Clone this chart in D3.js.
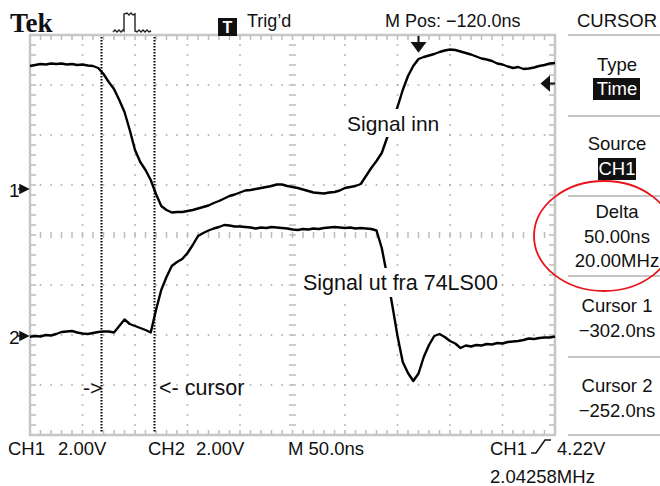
<!DOCTYPE html>
<html>
<head>
<meta charset="utf-8">
<script src="https://cdn.jsdelivr.net/npm/d3@7"></script>
<style>
body { margin: 0; background: #fff; }
svg { display: block; }
text { font-family: "Liberation Sans", Arial, sans-serif; fill: #111; }
</style>
</head>
<body>
<div class="drawingboard"></div>
<script>
// sample times (ns), 5 ns apart, over the 10 division screen
var times = [-370, -365, -360, -355, -350, -345, -340, -335, -330, -325, -320, -315, -310, -305, -300,
    -295, -290, -285, -280, -275, -270, -265, -260, -255, -250, -245, -240, -235, -230, -225, -220,
    -215, -210, -205, -200, -195, -190, -185, -180, -175, -170, -165, -160, -155, -150, -145, -140,
    -135, -130, -125, -120, -115, -110, -105, -100, -95, -90, -85, -80, -75, -70, -65, -60, -55, -50,
    -45, -40, -35, -30, -25, -20, -15, -10, -5, 0, 5, 10, 15, 20, 25, 30, 35, 40, 45, 50, 55, 60, 65,
    70, 75, 80, 85, 90, 95, 100, 105, 110, 115, 120, 125, 130];

// CH1 "Signal inn" (V)
var ch1Volts = [4.92, 4.96, 5.00, 4.98, 5.02, 5.00, 5.02, 4.98, 5.00, 4.96, 4.98, 4.94, 4.92, 4.84, 4.60,
    4.28, 4.00, 3.56, 3.08, 2.36, 1.56, 1.08, 0.76, 0.36, -0.20, -0.68, -0.84, -0.94, -0.92, -0.92, -0.88,
    -0.84, -0.78, -0.72, -0.66, -0.56, -0.48, -0.38, -0.28, -0.22, -0.14, -0.06, -0.04, 0.00, 0.04, 0.08,
    0.12, 0.18, 0.18, 0.12, 0.08, 0.04, -0.02, -0.08, -0.14, -0.16, -0.18, -0.14, -0.12, -0.06, 0.04, 0.08,
    0.12, 0.20, 0.52, 0.84, 1.12, 1.44, 2.04, 2.68, 3.28, 3.96, 4.52, 4.92, 5.20, 5.28, 5.34, 5.40, 5.48,
    5.54, 5.58, 5.56, 5.50, 5.44, 5.38, 5.30, 5.22, 5.18, 5.12, 5.02, 4.98, 4.90, 4.84, 4.88, 4.80, 4.82,
    4.86, 4.92, 4.96, 5.02, 5.04];

// CH2 "Signal ut fra 74LS00" (V)
var ch2Volts = [-0.03, 0.00, -0.02, 0.04, 0.02, 0.08, 0.16, 0.18, 0.20, 0.14, 0.10, 0.08, 0.12, 0.16, 0.18,
    0.18, 0.14, 0.40, 0.66, 0.48, 0.40, 0.32, 0.24, 0.14, 1.04, 1.84, 2.36, 2.80, 2.96, 3.08, 3.32,
    3.64, 4.00, 4.12, 4.22, 4.30, 4.36, 4.44, 4.42, 4.38, 4.38, 4.36, 4.34, 4.30, 4.34, 4.32, 4.36,
    4.34, 4.32, 4.30, 4.26, 4.24, 4.28, 4.26, 4.30, 4.28, 4.32, 4.34, 4.36, 4.34, 4.32, 4.34, 4.30,
    4.32, 4.30, 4.28, 4.22, 3.52, 2.44, 1.24, 0.00, -1.04, -1.48, -1.80, -1.50, -0.84, -0.36, 0.00, 0.08,
    -0.04, -0.20, -0.30, -0.48, -0.38, -0.42, -0.36, -0.38, -0.32, -0.34, -0.28, -0.30, -0.24, -0.22,
    -0.20, -0.16, -0.10, -0.12, -0.08, -0.06, -0.06, -0.02];

var cursorTimes = [-302, -252];
var triggerTime = 0;
var triggerLevel = 4.22;
var voltsPerDiv = 2;
var nsPerDiv = 50;
var horizPos = -120;
var ch1Position = 0.92;   // divisions above centre
var ch2Position = -2.02;

var width = 660, height = 486;
var gLeft = 30, gRight = 555, gTop = 35, gBottom = 435;

var svg = d3.select(".drawingboard")
    .append("svg")
    .attr("width", width)
    .attr("height", height);

var x = d3.scaleLinear()
    .domain([horizPos - 5 * nsPerDiv, horizPos + 5 * nsPerDiv])
    .range([gLeft, gRight]);

function yScale(pos) {
    return d3.scaleLinear()
        .domain([(-4 - pos) * voltsPerDiv, (4 - pos) * voltsPerDiv])
        .range([gBottom, gTop]);
}
var y1 = yScale(ch1Position);
var y2 = yScale(ch2Position);

// graticule
var grid = svg.append("g");
var minorX = d3.range(0, 51).map(function (i) { return gLeft + i * (gRight - gLeft) / 50; });
var minorY = d3.range(0, 41).map(function (i) { return gTop + i * (gBottom - gTop) / 40; });
var majorX = d3.range(1, 10).map(function (i) { return gLeft + i * (gRight - gLeft) / 10; });
var majorY = d3.range(1, 8).map(function (i) { return gTop + i * (gBottom - gTop) / 8; });
var cx = (gLeft + gRight) / 2, cy = (gTop + gBottom) / 2;

majorY.forEach(function (gy) {
    if (gy === cy) return;
    grid.selectAll(null).data(minorX.slice(1, -1)).enter().append("rect")
        .attr("x", function (d) { return d - 0.8; }).attr("y", gy - 0.8)
        .attr("width", 1.6).attr("height", 1.6).attr("fill", "#a9a9a9");
});
majorX.forEach(function (gx) {
    if (gx === cx) return;
    grid.selectAll(null).data(minorY.slice(1, -1)).enter().append("rect")
        .attr("x", gx - 0.8).attr("y", function (d) { return d - 0.8; })
        .attr("width", 1.6).attr("height", 1.6).attr("fill", "#a9a9a9");
});

var tickCol = "#bcbcbc";
// centre crosshair ticks
grid.selectAll(null).data(minorX.slice(1, -1)).enter().append("line")
    .attr("x1", function (d) { return d; }).attr("x2", function (d) { return d; })
    .attr("y1", cy - 3).attr("y2", cy + 3)
    .attr("stroke", tickCol).attr("stroke-width", 1.5);
grid.selectAll(null).data(minorY.slice(1, -1)).enter().append("line")
    .attr("x1", cx - 3.5).attr("x2", cx + 3.5)
    .attr("y1", function (d) { return d; }).attr("y2", function (d) { return d; })
    .attr("stroke", tickCol).attr("stroke-width", 1.5);
// edge ticks
grid.selectAll(null).data(minorX.slice(1, -1)).enter().append("path")
    .attr("d", function (d) { return "M" + d + "," + gTop + "V" + (gTop + 5) + "M" + d + "," + gBottom + "V" + (gBottom - 5); })
    .attr("stroke", tickCol).attr("stroke-width", 1.5);
grid.selectAll(null).data(minorY.slice(1, -1)).enter().append("path")
    .attr("d", function (d) { return "M" + gLeft + "," + d + "H" + (gLeft + 6) + "M" + gRight + "," + d + "H" + (gRight - 6); })
    .attr("stroke", tickCol).attr("stroke-width", 1.5);
grid.append("rect")
    .attr("x", gLeft).attr("y", gTop)
    .attr("width", gRight - gLeft).attr("height", gBottom - gTop)
    .attr("fill", "none").attr("stroke", "#c6c6c6").attr("stroke-width", 2.5);

// cursors
svg.selectAll(".cursor").data(cursorTimes).enter().append("line")
    .attr("class", "cursor")
    .attr("x1", function (d) { return Math.round(x(d)) + 0.5; }).attr("x2", function (d) { return Math.round(x(d)) + 0.5; })
    .attr("y1", gTop + 2).attr("y2", gBottom - 2)
    .attr("stroke", "#000").attr("stroke-width", 2)
    .attr("stroke-dasharray", "1.5,1.5");

// traces
var traces = svg.append("g");
function trace(values, ys) {
    traces.append("path")
        .datum(values)
        .attr("fill", "none")
        .attr("stroke", "#000")
        .attr("stroke-width", 2.4)
        .attr("stroke-linejoin", "round")
        .attr("d", d3.line()
            .x(function (d, i) { return x(times[i]); })
            .y(function (d) { return ys(d); }));
}
trace(ch1Volts, y1);
trace(ch2Volts, y2);

// annotation labels with opaque background
function label(txt, lx, ly, size) {
    var g = svg.append("g");
    var bg = g.append("rect").attr("fill", "#fff");
    var t = g.append("text").attr("x", lx).attr("y", ly)
        .style("font-size", size + "px").text(txt);
    var b = t.node().getBBox();
    bg.attr("x", b.x - 3).attr("y", b.y - 3).attr("width", b.width + 6).attr("height", b.height + 5);
}
label("Signal inn", 347, 131, 21);
label("Signal ut fra 74LS00", 303, 290, 21.5);

svg.append("text").attr("x", 83).attr("y", 395).style("font-size", "21px").text("->");
svg.append("text").attr("x", 159).attr("y", 395).style("font-size", "21.5px").text("<- cursor");

// channel ground markers
function marker(num, gy) {
    svg.append("text").attr("x", 9).attr("y", gy + 8).style("font-size", "19px").text(num);
    svg.append("path")
        .attr("d", "M20," + (gy - 4) + "L28," + gy + "L20," + (gy + 4) + "Z M18," + gy + "H24")
        .attr("fill", "#111").attr("stroke", "#111").attr("stroke-width", 1.5);
}
marker("1", y1(0));
marker("2", y2(0));

// trigger markers
var tx = x(triggerTime);
svg.append("path")
    .attr("d", "M" + tx + ",36V45 M" + (tx - 6) + ",43L" + tx + ",51L" + (tx + 6) + ",43Z")
    .attr("stroke", "#111").attr("stroke-width", 2).attr("fill", "#111");
var ty = y1(triggerLevel);
svg.append("path")
    .attr("d", "M" + gRight + "," + ty + "H" + (gRight - 8) + " M" + (gRight - 6) + "," + (ty - 6) + "L" + (gRight - 13) + "," + ty + "L" + (gRight - 6) + "," + (ty + 6) + "Z")
    .attr("stroke", "#111").attr("stroke-width", 2).attr("fill", "#111");

// header
svg.append("text").attr("x", 10).attr("y", 32)
    .style("font-family", "'Liberation Serif', 'DejaVu Serif', serif")
    .style("font-weight", "bold").style("font-size", "27px").text("Tek");
svg.append("path")
    .attr("d", "M113,32 l2,-2 l2,2 l2,-2 l2,2 l2,-2 L124,31 L124,14 L127,13 L129,15 L131,13 L133,15 L135,14 L135,31 l2,1 l2,-2 l2,2 l2,-2 l2,2 l2,-2 l2,2 l2,-1")
    .attr("fill", "none").attr("stroke", "#222").attr("stroke-width", 1.4);
svg.append("rect").attr("x", 218).attr("y", 18).attr("width", 19).attr("height", 18).attr("fill", "#111");
svg.append("text").attr("x", 227.5).attr("y", 33).attr("text-anchor", "middle")
    .style("font-size", "16px").style("font-weight", "bold").style("fill", "#fff").text("T");
svg.append("text").attr("x", 247).attr("y", 27).style("font-size", "18px").text("Trig\u2019d");
svg.append("text").attr("x", 385).attr("y", 27).style("font-size", "18px")
    .text("M Pos: \u2212" + Math.abs(horizPos).toFixed(1) + "ns");

// side menu
var mx = 617;
var menu = svg.append("g").attr("text-anchor", "middle").style("font-size", "18.5px");
menu.append("text").attr("x", mx).attr("y", 27).text("CURSOR");
[35, 116, 196, 276, 357, 435].forEach(function (sy) {
    menu.append("line").attr("x1", 568).attr("x2", 660).attr("y1", sy).attr("y2", sy)
        .attr("stroke", "#c6c6c6").attr("stroke-width", 2);
});
function item(txt, iy, inverse, bx, bw) {
    if (inverse) {
        menu.append("rect").attr("x", bx).attr("y", iy - 17).attr("width", bw).attr("height", 22).attr("fill", "#111");
    }
    menu.append("text").attr("x", mx).attr("y", iy).style("fill", inverse ? "#fff" : "#111").text(txt);
}
var delta = cursorTimes[1] - cursorTimes[0];
item("Type", 71);
item("Time", 95, true, 593, 47);
item("Source", 150);
item("CH1", 175, true, 598, 38);
item("Delta", 218);
item(delta.toFixed(2) + "ns", 243);
item((1000 / delta).toFixed(2) + "MHz", 267);
item("Cursor 1", 312);
item("\u2212" + Math.abs(cursorTimes[0]).toFixed(1) + "ns", 337);
item("Cursor 2", 392);
item("\u2212" + Math.abs(cursorTimes[1]).toFixed(1) + "ns", 417);

svg.append("ellipse").attr("cx", 604).attr("cy", 236).attr("rx", 70).attr("ry", 55)
    .attr("fill", "none").attr("stroke", "#e8141c").attr("stroke-width", 1.8);

// footer
var foot = svg.append("g").style("font-size", "18.5px");
foot.append("text").attr("x", 8).attr("y", 455).text("CH1");
foot.append("text").attr("x", 58).attr("y", 455).text(voltsPerDiv.toFixed(2) + "V");
foot.append("text").attr("x", 148).attr("y", 455).text("CH2");
foot.append("text").attr("x", 196).attr("y", 455).text(voltsPerDiv.toFixed(2) + "V");
foot.append("text").attr("x", 288).attr("y", 455).text("M " + nsPerDiv.toFixed(1) + "ns");
foot.append("text").attr("x", 490).attr("y", 455).text("CH1");
foot.append("path").attr("d", "M531,453 H536 L545,440 H551")
    .attr("fill", "none").attr("stroke", "#161616").attr("stroke-width", 1.6);
foot.append("text").attr("x", 557).attr("y", 455).text(triggerLevel.toFixed(2) + "V");
foot.append("text").attr("x", 490).attr("y", 483).text("2.04258MHz");
</script>
</body>
</html>
